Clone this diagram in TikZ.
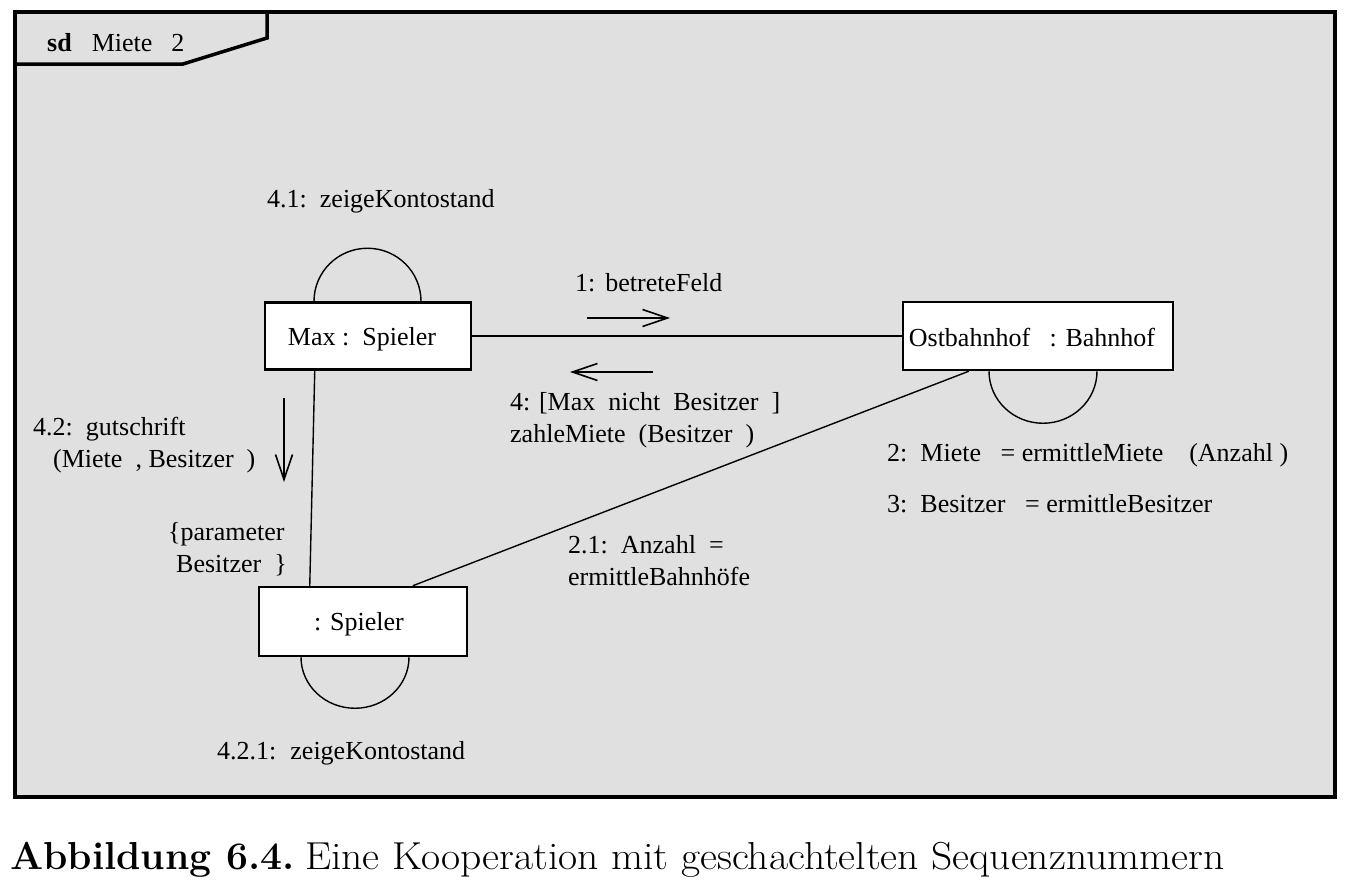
\documentclass[tikz,border=0pt]{standalone}
\usepackage{fontspec}
\newfontfamily\diag{Liberation Serif}
\usetikzlibrary{arrows.meta,calc}
\definecolor{framegray}{RGB}{224,224,224}
\begin{document}
\begin{tikzpicture}[x=1pt,y=-1pt,
  font=\diag\fontsize{26}{32}\selectfont,
  obj/.style={draw, fill=white, line width=2.5pt, inner sep=0pt},
  conn/.style={line width=1.4pt},
  msg/.style={line width=1.6pt, -{Straight Barb[length=25pt,width=17pt,line width=1.6pt]}},
  lbl/.style={anchor=west, inner sep=0pt, align=left},
  capstyle/.style={anchor=base west, inner sep=0pt, font=\fontsize{39}{44}\selectfont}]
\useasboundingbox (0,0) rectangle (1345,884);
\fill[white] (0,0) rectangle (1345,884);
% frame
\draw[line width=4pt, fill=framegray] (15,12) rectangle (1335,797);
\draw[line width=3.5pt] (15,64) -- (183,64) -- (267,38) -- (267,12);
\node[anchor=base west, inner sep=0pt] (title) at (47,51) {\textbf{sd}\hspace{20pt}Miete\hspace{19pt}2};
% objects
\node[obj, minimum width=206pt, minimum height=67pt] (max) at (368,336) {\hspace*{-12pt}\rule{0pt}{24pt}Max :\ \ Spieler};
\node[obj, minimum width=270pt, minimum height=68pt] (ost) at (1038,336) {\hspace*{-12pt}\rule{0pt}{22pt}Ostbahnhof\ \ \ : Bahnhof};
\node[obj, minimum width=208pt, minimum height=69pt] (sp) at (363,621.5) {\hspace*{-8pt}\rule{0pt}{23pt}: Spieler};
% connectors
\draw[conn] (max.east) -- (ost.west);
\draw[conn] ([xshift=51pt]max.south west) -- ([xshift=52pt]sp.north west);
\draw[conn] ([xshift=67pt]ost.south west) -- ([xshift=155pt]sp.north west);
% self loops
\draw[conn] ([xshift=-54pt]max.north) arc[start angle=180, end angle=0, x radius=53.5pt, y radius=53pt];
\draw[conn] ([xshift=-49pt]ost.south) arc[start angle=180, end angle=360, x radius=54pt, y radius=52pt];
\draw[conn] ([xshift=-62pt]sp.south) arc[start angle=180, end angle=360, x radius=54pt, y radius=51pt];
% message arrows
\coordinate (m1a) at (587,318); \coordinate (m1b) at (670,318);
\coordinate (m4a) at (653,372); \coordinate (m4b) at (570,372);
\coordinate (m42a) at (284,398); \coordinate (m42b) at (284,482);
\draw[msg] (m1a) -- (m1b);
\draw[msg] (m4a) -- (m4b);
\draw[msg] (m42a) -- (m42b);
% labels
\node[lbl] (l41) at (267,201) {4.1:\ \ zeigeKontostand};
\node[lbl] (l1) at (575,283) {1:\hspace{10pt}betreteFeld};
\node[lbl, anchor=north west] (l4) at (510,392) {4: [Max\ \ nicht\ \ Besitzer\ \ ]\\zahleMiete\ \ (Besitzer\ \ )};
\node[lbl, anchor=north west] (l42) at (33,417) {4.2:\ \ gutschrift\\\hspace*{20pt}(Miete\ \ , Besitzer\ \ )};
\node[lbl, anchor=north west] (lpar) at (168,522) {\{parameter\\\hspace*{8pt}Besitzer\ \ \}};
\node[lbl, anchor=north west] (l21) at (568,535) {2.1:\ \ Anzahl\ \ =\\ermittleBahnh\"ofe};
\node[lbl] (l2) at (887,455) {2:\ \ Miete\ \ \ = ermittleMiete\ \ \ \ (Anzahl )};
\node[lbl] (l3) at (887,504) {3:\ \ Besitzer\ \ \ = ermittleBesitzer};
\node[lbl] (l421) at (217,753) {4.2.1:\hspace{14pt}zeigeKontostand};
% caption
\node[capstyle] (capb) at (10,869) {\textbf{Abbildung 6.4.}};
\node[capstyle] (capr) at (305,869) {\scalebox{1.066}[1]{Eine Kooperation mit geschachtelten Sequenznummern}};
\end{tikzpicture}
\end{document}
